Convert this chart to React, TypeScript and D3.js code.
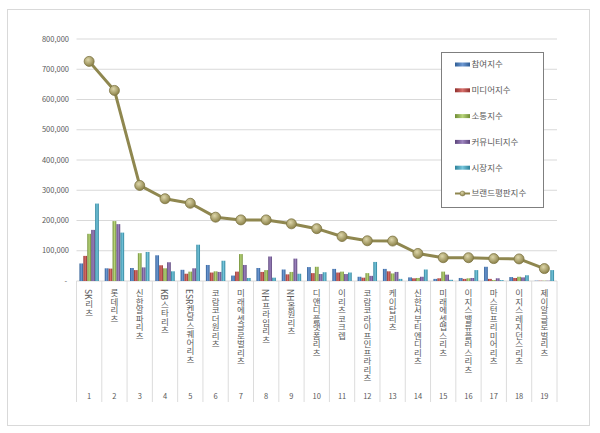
import * as d3 from "d3";
import React from "react";

// 리츠 브랜드평판 (카테고리 순서 = 순위)
const categories = [
  "SK리츠", "롯데리츠", "신한알파리츠", "KB스타리츠", "ESR켄달스퀘어리츠",
  "코람코더원리츠", "미래에셋글로벌리츠", "NH프라임리츠", "NH올원리츠", "디앤디플랫폼리츠",
  "이리츠코크렙", "코람코라이프인프라리츠", "케이탑리츠", "신한서부티엔디리츠", "미래에셋맵스리츠",
  "이지스밸류플러스리츠", "마스턴프리미어리츠", "이지스레지던스리츠", "제이알글로벌리츠",
];
const ranks = categories.map((_, i) => String(i + 1));

const participation = [58000, 42000, 43000, 85000, 37000, 53000, 18000, 43000, 38000, 46000, 40000, 14000, 40000, 12000, 7000, 10000, 47000, 13000, 1000];
const media = [83000, 41000, 36000, 52000, 24000, 28000, 31000, 30000, 22000, 26000, 28000, 11000, 32000, 9000, 9000, 7000, 7000, 10000, 1000];
const communication = [156000, 198000, 92000, 42000, 31000, 32000, 89000, 36000, 30000, 47000, 31000, 26000, 25000, 10000, 31000, 9000, 3000, 14000, 1000];
const community = [169000, 188000, 45000, 62000, 42000, 30000, 53000, 81000, 74000, 23000, 23000, 17000, 30000, 14000, 21000, 10000, 9000, 12000, 1000];
const market = [256000, 160000, 96000, 32000, 120000, 67000, 10000, 11000, 24000, 29000, 28000, 63000, 7000, 38000, 4000, 36000, 3000, 19000, 36000];
const brand = [726000, 630000, 316000, 272000, 257000, 211000, 202000, 202000, 189000, 173000, 147000, 133000, 132000, 91000, 77000, 77000, 74000, 73000, 41000];

const seriesNames = ["참여지수", "미디어지수", "소통지수", "커뮤니티지수", "시장지수"];
const seriesValues = [participation, media, communication, community, market];
const lineName = "브랜드평판지수";
const yTicks = [0, 100000, 200000, 300000, 400000, 500000, 600000, 700000, 800000];

const colors = [
  ["#2f5d94", "#6f9ad4"],
  ["#8f2f2c", "#d8706c"],
  ["#6f8c34", "#b7d47a"],
  ["#5a4379", "#9d84bf"],
  ["#2d8199", "#76c6dc"],
];
const font = "'Noto Sans CJK KR', 'Noto Sans', sans-serif";

export default function App() {
  const width = 600, height = 433;
  const plotLeft = 76.5, plotRight = 557, plotTop = 39, plotBottom = 281;

  const x = d3.scaleBand().domain(ranks).range([plotLeft, plotRight]).padding(0);
  const xs = d3.scaleBand().domain(seriesNames).range([0, x.bandwidth()]).paddingInner(0.05).paddingOuter(0.75);
  const y = d3.scaleLinear().domain([0, 800000]).range([plotBottom, plotTop]);
  const line = d3.line<number>()
    .x((_, i) => (x(ranks[i]) as number) + x.bandwidth() / 2)
    .y((d) => y(d));

  const legendX = 441, legendY = 52, legendW = 102, legendH = 155;
  const legendRows = [...seriesNames, lineName];

  return (
    <div style={{ position: "absolute", left: 0, top: 0 }}>
      <svg width={width} height={height} style={{ display: "block", background: "#fff" }}>
        <defs>
          {colors.map((c, i) => (
            <linearGradient key={i} id={`bar${i}`} x1="0" x2="1" y1="0" y2="0">
              <stop offset="0%" stopColor={c[0]} />
              <stop offset="50%" stopColor={c[1]} />
              <stop offset="100%" stopColor={c[0]} />
            </linearGradient>
          ))}
          <radialGradient id="marker" cx="40%" cy="35%" r="65%">
            <stop offset="0%" stopColor="#ddd6aa" />
            <stop offset="100%" stopColor="#8c8249" />
          </radialGradient>
        </defs>

        {/* chart frame */}
        <rect x={7.5} y={9.5} width={582} height={416} fill="#fff" stroke="#d9d9d9" />

        {/* gridlines */}
        {yTicks.map((t) => (
          <line key={t} x1={plotLeft} x2={plotRight} y1={y(t)} y2={y(t)} stroke="#d9d9d9" strokeWidth={1} />
        ))}
        {yTicks.map((t) => (
          <text key={"l" + t} x={t === 0 ? 67 : 69} y={y(t)} dy="0.35em" textAnchor="end"
            fontSize={7.5} fill="#595959" fontFamily={font}>
            {t === 0 ? "-" : d3.format(",")(t)}
          </text>
        ))}

        {/* category table */}
        {[...ranks.map((r) => x(r) as number), plotRight].map((bx, i) => (
          <line key={"v" + i} x1={bx} x2={bx} y1={plotBottom} y2={402} stroke="#dcdcdc" />
        ))}
        {categories.map((c, i) => (
          <text key={"c" + i} x={(x(ranks[i]) as number) + x.bandwidth() / 2} y={289}
            fontSize={8.5} fill="#595959" fontFamily={font}
            style={{ writingMode: "vertical-rl" }}>
            {c}
          </text>
        ))}
        {ranks.map((r) => (
          <text key={"n" + r} x={(x(r) as number) + x.bandwidth() / 2} y={396} dy="0.35em"
            textAnchor="middle" fontSize={7.5} fill="#595959" fontFamily={font}>
            {r}
          </text>
        ))}

        {/* bars */}
        {seriesValues.map((vals, si) => (
          <g key={"s" + si} fill={`url(#bar${si})`}>
            {vals.map((v, i) => (
              <rect key={i}
                x={(x(ranks[i]) as number) + (xs(seriesNames[si]) as number)}
                y={y(v)}
                width={xs.bandwidth()}
                height={plotBottom - y(v)} />
            ))}
          </g>
        ))}

        {/* brand line */}
        <path d={line(brand) || ""} fill="none" stroke="#8f874f" strokeWidth={3} strokeLinejoin="round" />
        {brand.map((v, i) => (
          <circle key={"m" + i} cx={(x(ranks[i]) as number) + x.bandwidth() / 2} cy={y(v)} r={5}
            fill="url(#marker)" stroke="#7d7544" strokeWidth={0.8} />
        ))}

        {/* legend */}
        <rect x={legendX + 0.5} y={legendY + 0.5} width={legendW} height={legendH} fill="#fff" stroke="#7f7f7f" />
        {legendRows.map((name, i) => {
          const ly = 64.5 + i * 25.8;
          return (
            <g key={"lg" + i}>
              {i < 5 ? (
                <rect x={455} y={ly - 2} width={15} height={4} fill={`url(#bar${i})`} />
              ) : (
                <g>
                  <line x1={455} x2={470} y1={ly} y2={ly} stroke="#8f874f" strokeWidth={2} />
                  <circle cx={462.5} cy={ly} r={2.5} fill="url(#marker)" stroke="#7d7544" strokeWidth={0.5} />
                </g>
              )}
              <text x={471.5} y={ly} dy="0.35em" fontSize={8.5} fill="#595959" fontFamily={font}>{name}</text>
            </g>
          );
        })}
      </svg>
    </div>
  );
}
